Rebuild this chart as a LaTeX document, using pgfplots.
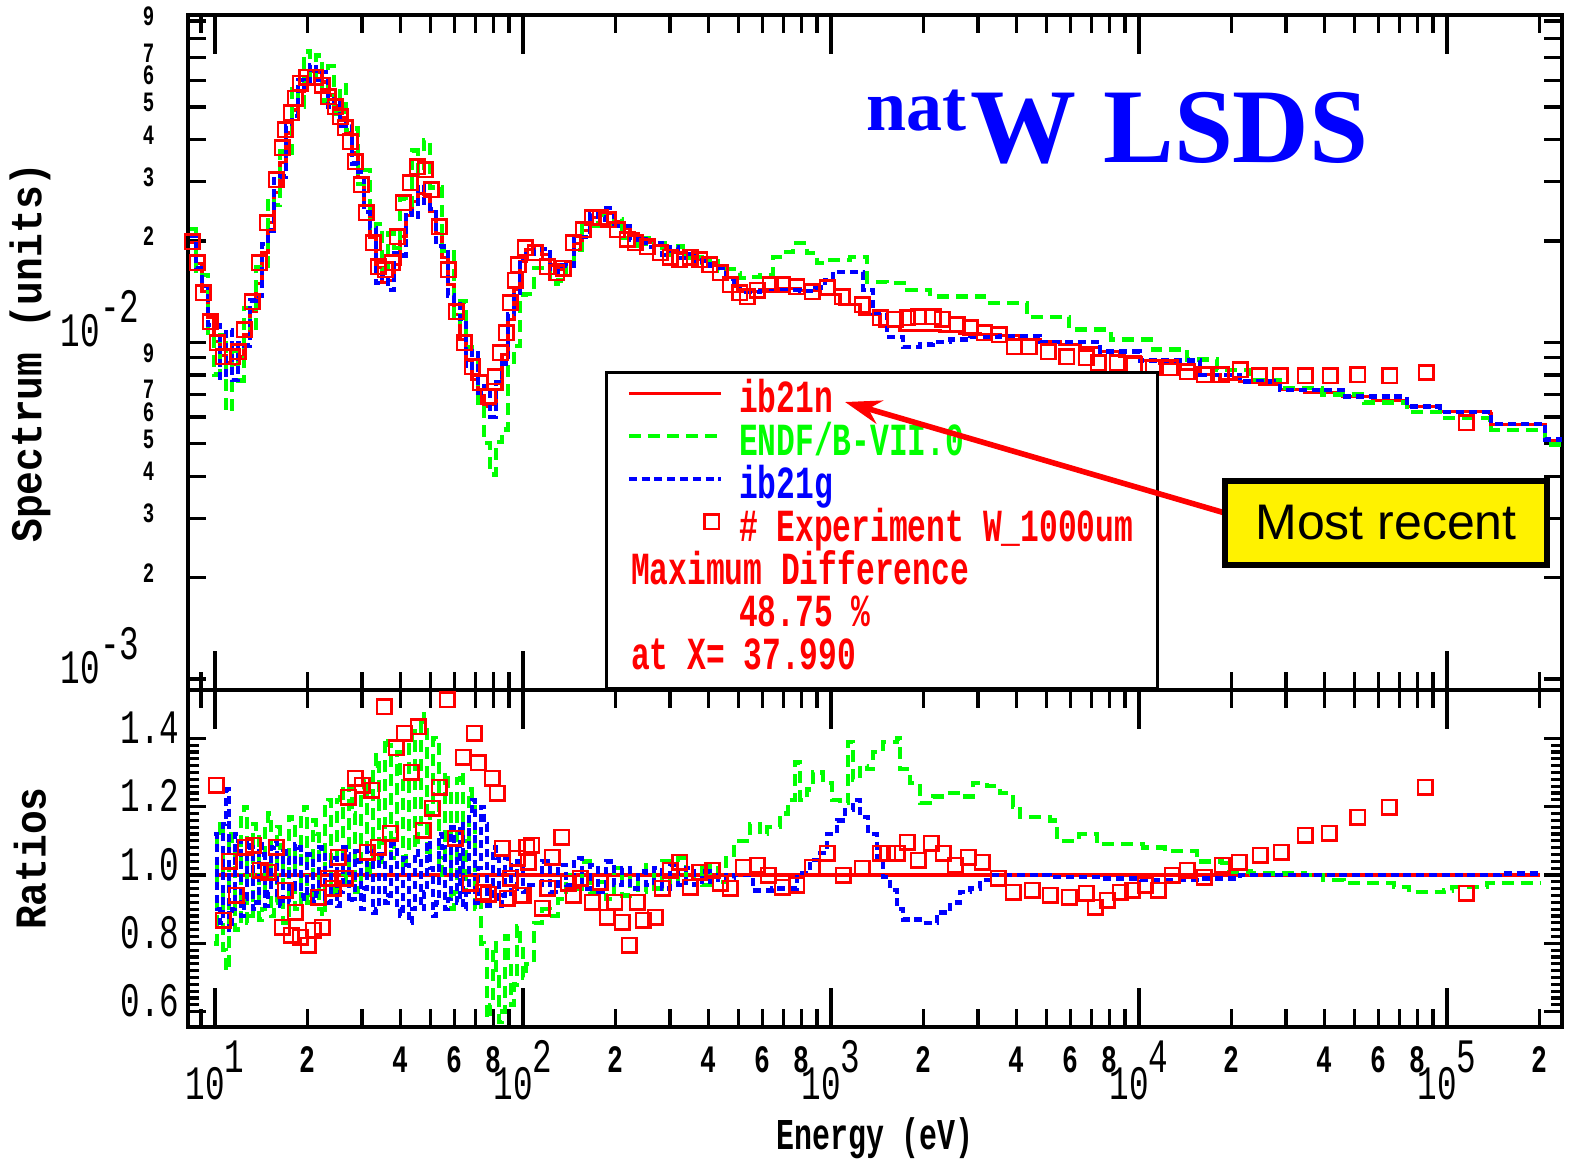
\documentclass[border=0pt]{standalone}
\usepackage{fontspec}
\usepackage{pgfplots}
\pgfplotsset{compat=1.18}
\usetikzlibrary{arrows.meta}
\setmainfont{Liberation Serif}
\newfontfamily\cond{Liberation Mono}[FakeStretch=0.68]
\newfontfamily\condB{Liberation Mono}[FakeStretch=0.9]
\newfontfamily\arialf{Liberation Sans}
\pgfplotsset{
  greenl/.style={green, line width=1.1pt, dash pattern=on 3pt off 1.75pt, const plot,
    legend image code/.code={\draw[green, line width=1.1pt, dash pattern=on 3pt off 1.75pt] (0pt,2.2pt) -- (23pt,2.2pt);}},
  bluel/.style={blue, line width=1.1pt, dash pattern=on 2pt off 1.2pt, const plot,
    legend image code/.code={\draw[blue, line width=1.1pt, dash pattern=on 2pt off 1.2pt] (0pt,2.2pt) -- (23pt,2.2pt);}},
  redl/.style={red, line width=0.8pt, const plot,
    legend image code/.code={\draw[red, line width=0.8pt] (0pt,2.2pt) -- (23pt,2.2pt);}},
  expm/.style={red, only marks, mark=square, mark size=1.8pt, mark options={line width=0.65pt, solid},
    legend image code/.code={\draw[red, line width=0.65pt] plot[mark=square, mark size=1.8pt, only marks] coordinates {(20.75pt,2.2pt)};}},
}
\begin{document}
\begin{tikzpicture}
\path[use as bounding box] (0,0) rectangle (392.5pt,290pt);
% ---------------- top panel ----------------
\begin{axis}[
  scale only axis, width=343.5pt, height=168.75pt,
  at={(47pt,117.5pt)}, anchor=south west,
  xmode=log, xmin=8.17, xmax=236300,
  ymode=log, ymin=9.27e-4, ymax=0.0938,
  axis line style={line width=1.1pt},
  every tick/.append style={line width=0.8pt, black},
  major tick length=4.5pt, minor tick length=2.75pt,
  xtick={9,20,30,40,50,60,70,80,90,200,300,400,500,600,700,800,900,2000,3000,4000,5000,6000,7000,8000,9000,20000,30000,40000,50000,60000,70000,80000,90000,200000},
  extra x ticks={10,100,1000,10000,100000},
  extra tick style={major tick length=9.75pt},
  xticklabels={}, extra x tick labels={},
  ytick={0.001,0.002,0.003,0.004,0.005,0.006,0.007,0.008,0.009,0.01,0.02,0.03,0.04,0.05,0.06,0.07,0.08,0.09},
  yticklabels={{\mdseries\fontsize{12}{12}\selectfont 10\raisebox{6pt}{-3}\hspace*{3.75pt}},2,3,4,5,6,7,{},9,{\mdseries\fontsize{12}{12}\selectfont 10\raisebox{6pt}{-2}\hspace*{3.75pt}},2,3,4,5,6,7,{},9},
  yticklabel style={font=\cond\bfseries\fontsize{7}{7}\selectfont, anchor=base east, inner sep=0pt, xshift=-8.25pt, yshift=-1.1pt},
  ylabel={Spectrum (units)},
  ylabel style={at={(rel axis cs:-0.115,0.5)}, anchor=center, font=\condB\bfseries\fontsize{11}{11}\selectfont},
  legend cell align=left,
  legend style={at={(0.3035,0)}, anchor=south west, draw=black, line width=0.8pt, fill=white,
    inner xsep=5pt, inner ysep=1.5pt, column sep=3pt, row sep=-1pt,
    nodes={inner sep=1pt, text height=7.5pt, text depth=2.2pt},
    font=\cond\bfseries\fontsize{11.5}{11.5}\selectfont},
]
\addplot[redl] coordinates {(8.297,0.01975)(8.678,0.01711)(9.076,0.01413)(9.490,0.01183)(9.925,0.01004)(10.38,0.00913)(10.86,0.00870)(11.35,0.00858)(11.88,0.00906)(12.42,0.01053)(12.99,0.01232)(13.59,0.01492)(14.21,0.01845)(14.86,0.02264)(15.54,0.02780)(16.26,0.03412)(17.00,0.04188)(17.78,0.04900)(18.60,0.05580)(19.45,0.06097)(20.34,0.06396)(21.28,0.06352)(22.25,0.05933)(23.27,0.05429)(24.34,0.05036)(25.46,0.04640)(26.63,0.04188)(27.85,0.03653)(29.13,0.03079)(30.46,0.02543)(31.86,0.02044)(33.32,0.01665)(34.85,0.01503)(36.45,0.01524)(38.12,0.01699)(39.87,0.02058)(41.70,0.02375)(43.62,0.02614)(45.62,0.02761)(47.71,0.02742)(49.90,0.02441)(52.19,0.02100)(54.58,0.01783)(57.09,0.01482)(59.71,0.01207)(62.44,0.01018)(65.31,0.00882)(68.31,0.00774)(71.44,0.00694)(74.72,0.00644)(78.14,0.00653)(81.73,0.00723)(85.48,0.00919)(89.40,0.01167)(93.50,0.01433)(97.78,0.01734)(102.3,0.01883)
(108.6,0.01935)(115.3,0.01820)(122.4,0.01699)(129.9,0.01642)(137.9,0.01734)(146.4,0.01961)(155.5,0.02144)(165.0,0.02343)(175.2,0.02441)(186.0,0.02408)(197.5,0.02280)(209.7,0.02173)(222.6,0.02100)(236.3,0.02030)(250.9,0.01975)(266.3,0.01935)(282.7,0.01896)(300.1,0.01857)(318.6,0.01832)(338.2,0.01795)(359.2,0.01758)(381.3,0.01734)(404.7,0.01722)(429.8,0.01665)(456.2,0.01555)(484.3,0.01462)
(506.3,0.01413)(588.0,0.01433)(683.0,0.01443)(793.3,0.01423)(921.1,0.01384)(1070,0.01293)(1242,0.01207)(1443,0.01112)(1675,0.01082)(1945,0.01082)(2259,0.01075)(2624,0.01061)(3047,0.01053)(3538,0.01046)(4109,0.01018)(4771,0.01004)(5540,0.00984)(6433,0.00964)(7470,0.00938)(8676,0.00906)(10075,0.00882)(11700,0.00864)(13590,0.00829)(15780,0.00801)(18320,0.00774)(21280,0.00764)(24710,0.00748)(28700,0.00723)(34590,0.00709)(45960,0.00690)(57520,0.00671)(74170,0.00644)(94910,0.00622)(137900,0.00614)(139000,0.00569)(206500,0.00569)(208000,0.00510)(236300,0.00510)};
\addlegendentry{\textcolor{red}{ib21n}}
\addplot[greenl] coordinates {(8.297,0.02173)(8.678,0.01574)(9.076,0.01583)(9.490,0.01065)(9.925,0.00803)(10.38,0.01050)(10.86,0.00626)(11.35,0.00944)(11.88,0.00770)(12.42,0.01264)(12.99,0.01084)(13.59,0.01671)(14.21,0.01661)(14.86,0.02672)(15.54,0.02558)(16.26,0.03685)(17.00,0.03644)(17.78,0.05635)(18.60,0.05022)(19.45,0.07316)(20.34,0.06012)(21.28,0.07114)(22.25,0.05221)(23.27,0.06623)(24.34,0.04784)(25.46,0.05800)(26.63,0.04272)(27.85,0.04311)(29.13,0.02956)(30.46,0.03255)(31.86,0.02146)(33.32,0.02248)(34.85,0.01653)(36.45,0.02103)(38.12,0.01903)(39.87,0.02675)(41.70,0.02565)(43.62,0.03712)(45.62,0.03175)(47.71,0.03976)(49.90,0.02880)(52.19,0.02898)(54.58,0.01872)(57.09,0.01853)(59.71,0.01147)(62.44,0.01323)(65.31,0.00970)(68.31,0.00929)(71.44,0.00638)(74.72,0.00502)(78.14,0.00405)(81.73,0.00506)(85.48,0.00551)(89.40,0.00875)(93.50,0.00974)(97.78,0.01387)(102.3,0.01393)
(108.6,0.01664)(115.3,0.01638)(122.4,0.01495)(129.9,0.01527)(137.9,0.01734)(146.4,0.01883)(155.5,0.02230)(165.0,0.02226)(175.2,0.02392)(186.0,0.02239)(197.5,0.02326)(209.7,0.02043)(222.6,0.02079)(236.3,0.01929)(250.9,0.02034)(266.3,0.01858)(282.7,0.01972)(300.1,0.01820)(318.6,0.01924)(338.2,0.01777)(359.2,0.01793)(381.3,0.01682)(404.7,0.01774)(429.8,0.01632)(456.2,0.01648)(484.3,0.01608)
(506.3,0.01550)(545.8,0.01560)(588.0,0.01587)(648.1,0.01795)(698.4,0.01857)(752.5,0.01975)(835.8,0.01845)(900.6,0.01722)(992.6,0.01758)(1153,0.01795)(1309,0.01513)(1520,0.01503)(1766,0.01433)(2097,0.01366)(2293,0.01366)(3140,0.01311)(4329,0.01191)(5927,0.01090)(8111,0.01018)(11105,0.00951)(14320,0.00888)(17920,0.00829)(22930,0.00774)(28700,0.00733)(39290,0.00699)(53760,0.00662)(74170,0.00622)(98530,0.00597)(137900,0.00589)(139000,0.00550)(206500,0.00550)(208000,0.00497)(236300,0.00497)};
\addlegendentry{\textcolor{green}{ENDF/B-VII.0}}
\addplot[bluel] coordinates {(8.297,0.02074)(8.678,0.01660)(9.076,0.01470)(9.490,0.01124)(9.925,0.01124)(10.38,0.00785)(10.86,0.01088)(11.35,0.00772)(11.88,0.00997)(12.42,0.00979)(12.99,0.01331)(13.59,0.01373)(14.21,0.01956)(14.86,0.02151)(15.54,0.03058)(16.26,0.03105)(17.00,0.04397)(17.78,0.04704)(18.60,0.06026)(19.45,0.05670)(20.34,0.06652)(21.28,0.06034)(22.25,0.06348)(23.27,0.04995)(24.34,0.05288)(25.46,0.04408)(26.63,0.04439)(27.85,0.03397)(29.13,0.03202)(30.46,0.02441)(31.86,0.02187)(33.32,0.01499)(34.85,0.01578)(36.45,0.01433)(38.12,0.01835)(39.87,0.01811)(41.70,0.02446)(43.62,0.02353)(45.62,0.02927)(47.71,0.02605)(49.90,0.02490)(52.19,0.01932)(54.58,0.01926)(57.09,0.01378)(59.71,0.01328)(62.44,0.01171)(65.31,0.00838)(68.31,0.00944)(71.44,0.00708)(74.72,0.00741)(78.14,0.00601)(81.73,0.00759)(85.48,0.00864)(89.40,0.01214)(93.50,0.01376)(97.78,0.01786)(102.3,0.01827)
(108.6,0.01877)(115.3,0.01893)(122.4,0.01614)(129.9,0.01691)(137.9,0.01682)(146.4,0.02059)(155.5,0.02058)(165.0,0.02413)(175.2,0.02319)(186.0,0.02504)(197.5,0.02212)(209.7,0.02216)(222.6,0.02016)(236.3,0.02050)(250.9,0.01916)(266.3,0.01974)(282.7,0.01820)(300.1,0.01913)(318.6,0.01777)(338.2,0.01831)(359.2,0.01705)(381.3,0.01751)(404.7,0.01688)(429.8,0.01665)(456.2,0.01539)(484.3,0.01462)
(506.3,0.01413)(588.0,0.01423)(683.0,0.01433)(793.3,0.01423)(887.6,0.01453)(955.9,0.01533)(1015,0.01620)(1153,0.01620)(1270,0.01433)(1369,0.01224)(1520,0.01039)(1713,0.00970)(1945,0.00984)(2144,0.01004)(2435,0.01018)(2828,0.01039)(3538,0.01046)(4771,0.01004)(7470,0.00938)(10075,0.00882)(15780,0.00801)(21280,0.00764)(28700,0.00723)(45960,0.00690)(74170,0.00644)(94910,0.00622)(137900,0.00622)(139000,0.00573)(206500,0.00573)(208000,0.00514)(236300,0.00514)};
\addlegendentry{\textcolor{blue}{ib21g}}
\addplot[expm] coordinates {(8.42,0.01988)(8.74,0.01722)(9.14,0.01404)(9.63,0.01151)(10.15,0.00997)(10.62,0.00906)(11.36,0.00906)(11.88,0.00938)(12.42,0.01090)(13.19,0.01320)(13.90,0.01722)(14.75,0.02264)(15.78,0.03038)(16.50,0.03779)(16.88,0.04274)(17.66,0.04800)(18.19,0.05317)(18.88,0.05891)(19.89,0.06138)(21.12,0.06138)(22.26,0.05811)(23.27,0.05354)(24.53,0.05000)(25.46,0.04670)(26.43,0.04333)(27.44,0.03937)(28.48,0.03433)(29.79,0.02935)(30.93,0.02424)(32.59,0.01974)(33.82,0.01676)(35.64,0.01642)(37.56,0.01722)(38.99,0.02057)(40.78,0.02596)(42.97,0.02976)(45.29,0.03319)(48.07,0.03250)(50.27,0.02840)(53.38,0.02203)(57.08,0.01640)(60.60,0.01233)(64.33,0.00997)(68.30,0.00846)(72.51,0.00759)(76.98,0.00690)(81.13,0.00790)(84.20,0.00931)(88.06,0.01068)(90.73,0.01311)(94.19,0.01530)(96.32,0.01699)(101.5,0.01909)(109.4,0.01844)(119.7,0.01676)(128.9,0.01609)(134.9,0.01660)(145.3,0.01974)(156.6,0.02160)(167.5,0.02343)(177.8,0.02350)(188.8,0.02310)(202.0,0.02160)(217.6,0.02020)(231.0,0.01974)(252.7,0.01922)(278.5,0.01844)(300.1,0.01790)(323.3,0.01758)(348.5,0.01790)(375.5,0.01758)(404.6,0.01699)(436.1,0.01609)(469.9,0.01483)(506.3,0.01404)(533.8,0.01366)(575.1,0.01430)(633.9,0.01483)(693.2,0.01483)(775.4,0.01462)(867.6,0.01413)(970.5,0.01454)(1086,0.01366)(1261,0.01293)(1443,0.01183)(1614,0.01170)(1766,0.01183)(1917,0.01190)(2144,0.01190)(2293,0.01170)(2565,0.01128)(2828,0.01104)(3140,0.01068)(3512,0.01052)(3928,0.00970)(4395,0.00970)(5064,0.00938)(5836,0.00906)(6730,0.00899)(7362,0.00870)(8485,0.00870)(9634,0.00858)(11110,0.00841)(12610,0.00841)(14320,0.00818)(16260,0.00801)(18460,0.00801)(21280,0.00829)(24530,0.00796)(28700,0.00796)(34590,0.00796)(41700,0.00796)(51400,0.00801)(65300,0.00796)(85500,0.00813)(115300,0.00577)};
\addlegendentry{\textcolor{red}{\# Experiment W\_1000um}}
\addlegendimage{empty legend}
\addlegendentry{\textcolor{red}{\hspace*{-27pt}Maximum Difference}}
\addlegendimage{empty legend}
\addlegendentry{\textcolor{red}{48.75 \%}}
\addlegendimage{empty legend}
\addlegendentry{\textcolor{red}{\hspace*{-27pt}at X= 37.990}}
\end{axis}
% ---------------- bottom panel ----------------
\begin{axis}[
  scale only axis, width=343.5pt, height=84.25pt,
  at={(47pt,33.25pt)}, anchor=south west,
  xmode=log, xmin=8.17, xmax=236300,
  ymin=0.555, ymax=1.5417,
  axis line style={line width=1.1pt},
  every tick/.append style={line width=0.8pt, black},
  major tick length=4.5pt, minor tick length=2.75pt,
  xtick={9,20,30,40,50,60,70,80,90,200,300,400,500,600,700,800,900,2000,3000,4000,5000,6000,7000,8000,9000,20000,30000,40000,50000,60000,70000,80000,90000,200000},
  extra x ticks={10,100,1000,10000,100000},
  extra tick style={major tick length=9.75pt},
  xticklabels={,2,,4,,6,,8,,2,,4,,6,,8,,2,,4,,6,,8,,2,,4,,6,,8,,2},
  extra x tick labels={{\mdseries\fontsize{12}{12}\selectfont\raisebox{-6.75pt}{10}1},{\mdseries\fontsize{12}{12}\selectfont\raisebox{-6.75pt}{10}2},{\mdseries\fontsize{12}{12}\selectfont\raisebox{-6.75pt}{10}3},{\mdseries\fontsize{12}{12}\selectfont\raisebox{-6.75pt}{10}4},{\mdseries\fontsize{12}{12}\selectfont\raisebox{-6.75pt}{10}5}},
  xticklabel style={font=\cond\bfseries\fontsize{9.7}{9.7}\selectfont, anchor=base, inner sep=0pt, yshift=-11.25pt},
  ytick={0.6,0.8,1.0,1.2,1.4}, yticklabels={0.6,0.8,1.0,1.2,1.4}, minor y tick num=9,
  yticklabel style={font=\cond\fontsize{12}{12}\selectfont, anchor=base east, inner sep=0pt, xshift=-2pt, yshift=-1.3pt},
  ylabel={Ratios},
  ylabel style={at={(rel axis cs:-0.115,0.5)}, anchor=center, font=\condB\bfseries\fontsize{11}{11}\selectfont},
  xlabel={Energy (eV)},
  xlabel style={at={(rel axis cs:0.5,-0.329)}, anchor=center, font=\cond\bfseries\fontsize{11}{11}\selectfont},
]
\addplot[redl] coordinates {(10,1.0)(200000,1.0)};
\addplot[greenl] coordinates {(9.925,0.80)(10.15,1.10)(10.38,1.15)(10.62,0.78)(10.86,0.72)(11.10,1.12)(11.35,1.10)(11.61,0.84)(11.88,0.85)(12.14,1.18)(12.42,1.20)(12.70,0.86)(12.99,0.88)(13.29,1.15)(13.59,1.12)(13.90,0.87)(14.21,0.90)(14.53,1.16)(14.86,1.18)(15.20,0.88)(15.54,0.92)(15.90,1.14)(16.26,1.08)(16.63,0.86)(17.00,0.87)(17.39,1.17)(17.78,1.15)(18.19,0.90)(18.60,0.90)(19.02,1.18)(19.45,1.20)(19.89,0.92)(20.34,0.94)(20.81,1.16)(21.28,1.12)(21.76,0.90)(22.25,0.88)(22.76,1.20)(23.27,1.22)(23.80,0.96)(24.34,0.95)(24.89,1.22)(25.46,1.25)(26.04,0.98)(26.63,1.02)(27.23,1.26)(27.85,1.18)(28.48,0.95)(29.13,0.96)(29.79,1.25)(30.46,1.28)(31.15,1.00)(31.86,1.05)(32.58,1.32)(33.32,1.35)(34.07,1.02)(34.85,1.10)(35.64,1.40)(36.45,1.38)(37.27,1.05)(38.12,1.12)(38.98,1.36)(39.87,1.30)(40.77,1.02)(41.70,1.08)(42.64,1.40)(43.62,1.42)(44.60,1.08)(45.62,1.15)(46.64,1.47)(47.71,1.45)(48.78,1.05)(49.90,1.18)(51.02,1.40)(52.19,1.38)(53.36,1.00)(54.58,1.05)(55.81,1.30)(57.09,1.25)(58.37,0.90)(59.71,0.95)(61.05,1.28)(62.44,1.30)(63.85,0.95)(65.31,1.10)(66.78,1.25)(68.31,1.20)(69.84,0.90)(71.44,0.92)(73.05,0.80)(74.72,0.78)(76.40,0.58)(78.14,0.62)(79.90,0.80)(81.73,0.70)(83.57,0.57)(85.48,0.60)(87.40,0.82)(89.40,0.75)(91.41,0.62)(93.50,0.68)(95.61,0.85)(97.78,0.80)(100.0,0.70)(102.3,0.74)
(108.6,0.86)(115.3,0.90)(122.4,0.88)(129.9,0.93)(137.9,1.00)(146.4,0.96)(155.5,1.04)(165.0,0.95)(175.2,0.98)(186.0,0.93)(197.5,1.02)(209.7,0.94)(222.6,0.99)(236.3,0.95)(250.9,1.03)(266.3,0.96)(282.7,1.04)(300.1,0.98)(318.6,1.05)(338.2,0.99)(359.2,1.02)(381.3,0.97)(404.7,1.03)(429.8,0.98)(456.2,1.06)(484.3,1.10)
(506.3,1.10)(545.8,1.15)(588.0,1.12)(619.6,1.14)(683.0,1.18)(725.1,1.22)(764.0,1.33)(793.3,1.22)(835.8,1.25)(874.2,1.30)(941.9,1.27)(1008,1.22)(1070,1.21)(1136,1.39)(1179,1.28)(1242,1.32)(1309,1.31)(1369,1.36)(1475,1.39)(1638,1.40)(1675,1.31)(1805,1.27)(1945,1.21)(2144,1.23)(2380,1.24)(2624,1.23)(2891,1.27)(3211,1.26)(3538,1.24)(3899,1.20)(4109,1.17)(4494,1.17)(5141,1.16)(5417,1.10)(6386,1.12)(7305,1.09)(9006,1.09)(10300,1.08)(12140,1.07)(15090,1.07)(15430,1.04)(18600,1.035)(19600,1.01)(23100,1.005)(34590,1.0)(39580,0.985)(46300,0.976)(67300,0.965)(75280,0.95)(97800,0.955)(103800,0.965)(134900,0.976)(200000,0.976)};
\addplot[bluel] coordinates {(9.925,1.12)(10.15,0.90)(10.38,0.86)(10.62,1.15)(10.86,1.25)(11.10,0.84)(11.35,0.90)(11.61,1.12)(11.88,1.10)(12.14,0.88)(12.42,0.93)(12.70,1.10)(12.99,1.08)(13.29,0.90)(13.59,0.92)(13.90,1.09)(14.21,1.06)(14.53,0.91)(14.86,0.95)(15.20,1.08)(15.54,1.10)(15.90,0.93)(16.26,0.91)(16.63,1.07)(17.00,1.05)(17.39,0.92)(17.78,0.96)(18.19,1.09)(18.60,1.08)(19.02,0.94)(19.45,0.93)(19.89,1.06)(20.34,1.04)(20.81,0.92)(21.28,0.95)(21.76,1.08)(22.25,1.07)(22.76,0.93)(23.27,0.92)(23.80,1.05)(24.34,1.05)(24.89,0.91)(25.46,0.95)(26.04,1.08)(26.63,1.06)(27.23,0.92)(27.85,0.93)(28.48,1.07)(29.13,1.04)(29.79,0.90)(30.46,0.96)(31.15,1.08)(31.86,1.07)(32.58,0.89)(33.32,0.90)(34.07,1.06)(34.85,1.05)(35.64,0.92)(36.45,0.94)(37.27,1.09)(38.12,1.08)(38.98,0.90)(39.87,0.88)(40.77,1.05)(41.70,1.03)(42.64,0.86)(43.62,0.90)(44.60,1.07)(45.62,1.06)(46.64,0.90)(47.71,0.95)(48.78,1.10)(49.90,1.02)(51.02,0.88)(52.19,0.92)(53.36,1.12)(54.58,1.08)(55.81,0.90)(57.09,0.93)(58.37,1.14)(59.71,1.10)(61.05,0.92)(62.44,1.15)(63.85,0.90)(65.31,0.95)(66.78,1.18)(68.31,1.22)(69.84,0.92)(71.44,1.02)(73.05,1.20)(74.72,1.15)(76.40,0.90)(78.14,0.92)(79.90,1.08)(81.73,1.05)(83.57,0.91)(85.48,0.94)(87.40,1.05)(89.40,1.04)(91.41,0.93)(93.50,0.96)(95.61,1.04)(97.78,1.03)(100.0,0.95)(102.3,0.97)
(108.6,0.97)(115.3,1.04)(122.4,0.95)(129.9,1.03)(137.9,0.97)(146.4,1.05)(155.5,0.96)(165.0,1.03)(175.2,0.95)(186.0,1.04)(197.5,0.97)(209.7,1.02)(222.6,0.96)(236.3,1.01)(250.9,0.97)(266.3,1.02)(282.7,0.96)(300.1,1.03)(318.6,0.97)(338.2,1.02)(359.2,0.97)(381.3,1.01)(404.7,0.98)(429.8,1.00)(456.2,0.99)(484.3,1.00)
(525.8,1.00)(558.1,0.955)(643.5,0.96)(775.4,1.006)(854.8,1.044)(921.1,1.064)(970.5,1.12)(1046,1.16)(1110,1.19)(1179,1.22)(1242,1.17)(1319,1.12)(1411,1.05)(1475,0.994)(1555,0.956)(1638,0.90)(1713,0.87)(1945,0.86)(2209,0.89)(2435,0.92)(2624,0.95)(2828,0.96)(3047,0.985)(3283,1.0)(3538,1.0)(5141,0.995)(7470,0.99)(10075,0.985)(15780,0.99)(21280,1.0)(33330,1.0)(70380,1.0)(148600,1.005)(200000,1.005)};
\addplot[expm] coordinates {(10.08,1.2635)(10.62,0.8682)(11.10,1.041)(11.70,0.9414)(12.52,1.082)(13.29,1.0878)(14.00,1.0146)(14.86,1.0088)(15.78,1.082)(16.88,0.9561)(16.51,0.8477)(17.65,0.8243)(18.19,0.8917)(18.88,0.8184)(20.04,0.795)(20.81,0.8389)(22.25,0.8477)(21.60,0.9356)(23.27,0.9912)(24.16,0.9619)(25.08,1.0527)(26.43,0.9912)(27.03,1.2284)(28.48,1.284)(30.01,1.2635)(32.33,1.2489)(31.15,1.0674)(33.82,1.082)(37.00,1.123)(35.38,1.492)(38.70,1.3719)(41.09,1.4158)(45.62,1.4334)(43.29,1.3016)(47.35,1.1318)(50.65,1.1962)(53.38,1.2577)(56.66,1.5125)(60.14,1.1083)(63.87,1.3455)(69.33,1.4158)(71.44,1.328)(79.32,1.284)(82.34,1.2401)(67.29,0.9766)(74.17,0.9502)(76.98,0.9444)(85.48,1.0791)(90.73,0.9912)(88.73,0.9326)(95.61,1.0498)(97.78,0.9414)(103.8,1.0381)(106.9,1.0878)(103.0,1.082)(100.0,0.9414)(115.3,0.9034)(124.2,1.0527)(120.5,0.9619)(133.8,1.1113)(140.0,0.9766)(153.1,0.9912)(145.3,0.9414)(167.5,0.9209)(177.8,0.9795)(187.4,0.877)(198.9,0.9209)(209.7,0.8624)(220.9,0.795)(234.6,0.9209)(245.3,0.8682)(268.4,0.877)(282.7,0.9619)(300.1,1.0146)(323.3,1.0381)(348.5,0.9649)(375.5,1.0088)(410.9,1.0146)(436.1,0.9766)(469.9,0.9619)(518.1,1.0234)(575.1,1.0293)(624.5,1.0)(693.2,0.9649)(775.4,0.9707)(867.6,1.0234)(970.5,1.0644)(1094,1.0)(1261,1.0205)(1443,1.0644)(1531,1.0644)(1638,1.0644)(1766,1.0966)(1917,1.0439)(2112,1.0937)(2311,1.0644)(2527,1.0293)(2785,1.0527)(3093,1.0381)(3485,0.9912)(3899,0.9502)(4494,0.9561)(5141,0.9414)(5927,0.9356)(6730,0.9473)(7197,0.9063)(7873,0.9268)(8676,0.9502)(9491,0.9561)(10460,0.9707)(11530,0.9561)(12800,1.0)(14320,1.0146)(16260,0.9941)(18600,1.0293)(21120,1.0381)(24710,1.0586)(28920,1.0674)(34590,1.1171)(41400,1.123)(51400,1.1698)(64820,1.1991)(84850,1.2577)(115300,0.9473)};
\end{axis}
% ---------------- annotations ----------------
\node[anchor=base west, inner sep=0pt, text=blue, font=\bfseries\fontsize{18}{18}\selectfont] at (216.5pt,257.5pt) {nat};
\node[anchor=base west, inner sep=0pt, text=blue, font=\bfseries\fontsize{26.5}{26.5}\selectfont] at (242.5pt,249.5pt) {W LSDS};
\draw[red, line width=1.4pt, -{Stealth[length=9pt,width=6pt]}] (306.25pt,161.75pt) -- (211.25pt,189.5pt);
\node[draw=black, line width=1.3pt, fill=yellow, minimum width=80.5pt, minimum height=21pt, inner sep=0pt, font=\arialf\fontsize{12.5}{12.5}\selectfont] at (346.5pt,159.25pt) {Most recent};
\end{tikzpicture}
\end{document}
